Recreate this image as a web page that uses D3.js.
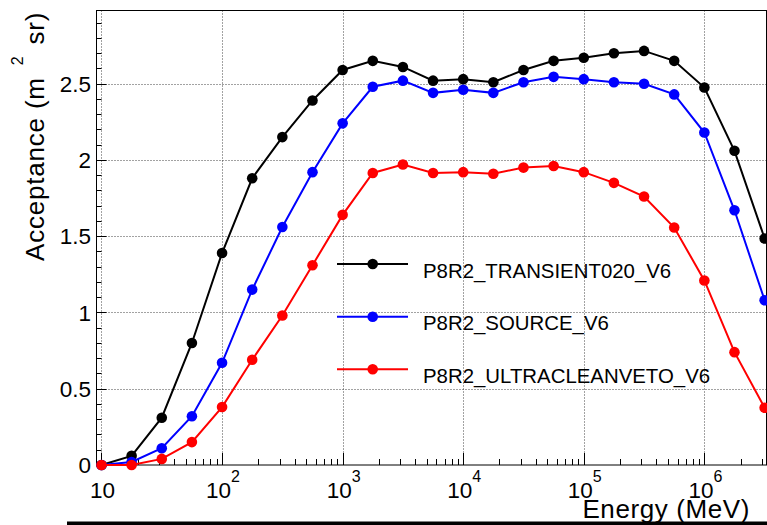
<!DOCTYPE html>
<html>
<head>
<meta charset="utf-8">
<script src="https://cdn.jsdelivr.net/npm/d3@7"></script>
<style>
  html, body { margin: 0; padding: 0; background: #fff; }
  svg { display: block; font-family: "Liberation Sans", Arial, Helvetica, sans-serif; }
</style>
</head>
<body>
<svg id="chart" width="767" height="525"></svg>
<script>
// ---------- data ----------
const energies = [10, 17.78, 31.62, 56.23, 100, 177.8, 316.2, 562.3, 1000, 1778, 3162, 5623,
  1e4, 1.778e4, 3.162e4, 5.623e4, 1e5, 1.778e5, 3.162e5, 5.623e5, 1e6, 1.778e6, 3.162e6];
const seriesNames = ["P8R2_TRANSIENT020_V6", "P8R2_SOURCE_V6", "P8R2_ULTRACLEANVETO_V6"];
const seriesColors = ["#000000", "#0000ff", "#ff0000"];
const transient020 = [0.00, 0.06, 0.31, 0.80, 1.39, 1.88, 2.15, 2.39, 2.59, 2.65, 2.61, 2.52,
  2.53, 2.51, 2.59, 2.65, 2.67, 2.70, 2.715, 2.65, 2.475, 2.06, 1.485];
const source = [0.00, 0.02, 0.11, 0.32, 0.67, 1.15, 1.56, 1.92, 2.24, 2.48, 2.52, 2.44,
  2.46, 2.44, 2.51, 2.545, 2.53, 2.51, 2.50, 2.43, 2.18, 1.67, 1.08];
const ultracleanveto = [0.00, 0.00, 0.04, 0.15, 0.38, 0.69, 0.98, 1.31, 1.64, 1.915, 1.97, 1.915,
  1.92, 1.91, 1.95, 1.96, 1.92, 1.85, 1.76, 1.557, 1.21, 0.74, 0.375];
const seriesValues = [transient020, source, ultracleanveto];
const xMajorTicks = [10, 1e2, 1e3, 1e4, 1e5, 1e6];
const xTickExponents = [null, "2", "3", "4", "5", "6"];
const yMajorTicks = [0, 0.5, 1, 1.5, 2, 2.5];
const yTickLabels = ["0", "0.5", "1", "1.5", "2", "2.5"];
const xTitle = "Energy (MeV)";
const yTitleParts = ["Acceptance (m", "2", "sr)"];

// ---------- layout ----------
const svg = d3.select("#chart");
const L = 96.5, R = 766.5, T = 10.5, B = 465;
const x = d3.scaleLog().domain([Math.pow(10, 0.9586), Math.pow(10, 6.5155)]).range([L, R]);
const y = d3.scaleLinear().domain([0, 2.98]).range([B, T]);

// grid
const grid = svg.append("g").attr("stroke", "#444").attr("stroke-width", 1).attr("stroke-dasharray", "1,2");
grid.selectAll("line.gx").data(xMajorTicks).join("line")
  .attr("x1", d => Math.round(x(d)) + 0.5).attr("x2", d => Math.round(x(d)) + 0.5)
  .attr("y1", T).attr("y2", B);
grid.selectAll("line.gy").data(yMajorTicks.filter(d => d > 0)).join("line")
  .attr("y1", d => Math.round(y(d)) + 0.5).attr("y2", d => Math.round(y(d)) + 0.5)
  .attr("x1", L).attr("x2", R);

// minor ticks
const xMinor = [];
for (let p = 1; p <= 6; p++) for (let m = 1; m <= 9; m++) {
  const v = m * Math.pow(10, p);
  if (v > x.domain()[0] && v < x.domain()[1]) xMinor.push(v);
}
const ticks = svg.append("g").attr("stroke", "#000").attr("stroke-width", 1);
ticks.selectAll("line.xt").data(xMinor).join("line")
  .attr("x1", d => Math.round(x(d)) + 0.5).attr("x2", d => Math.round(x(d)) + 0.5)
  .attr("y1", B).attr("y2", d => xMajorTicks.includes(d) ? B - 12 : B - 6);
const yMinor = d3.range(0, 30).map(i => i / 10).filter(v => v <= 2.98);
ticks.selectAll("line.yt").data(yMinor).join("line")
  .attr("y1", d => Math.round(y(d)) + 0.5).attr("y2", d => Math.round(y(d)) + 0.5)
  .attr("x1", L).attr("x2", (d, i) => i % 5 === 0 ? L + 10 : L + 5);

// frame
svg.append("rect").attr("x", L).attr("y", T).attr("width", R - L).attr("height", B - T)
  .attr("fill", "none").attr("stroke", "#000").attr("stroke-width", 1);

// y tick labels
svg.append("g").selectAll("text").data(yMajorTicks).join("text")
  .attr("x", 91).attr("y", d => y(d)).attr("dy", "0.36em")
  .attr("text-anchor", "end").attr("font-size", 22.5).attr("fill", "#000")
  .text((d, i) => yTickLabels[i]);

// x tick labels
const xl = svg.append("g").selectAll("text").data(xMajorTicks).join("text")
  .attr("x", d => x(d) + 1).attr("y", 498)
  .attr("text-anchor", "middle").attr("font-size", 22.5).attr("fill", "#000");
xl.append("tspan").text("10");
xl.filter((d, i) => xTickExponents[i] !== null).append("tspan")
  .attr("font-size", 16).attr("dy", -16).text((d) => xTickExponents[xMajorTicks.indexOf(d)]);

// series
const line = d3.line().x(d => x(d[0])).y(d => y(d[1]));
seriesValues.forEach((vals, si) => {
  const pts = energies.map((e, i) => [e, vals[i]]);
  svg.append("path").datum(pts).attr("d", line)
    .attr("fill", "none").attr("stroke", seriesColors[si]).attr("stroke-width", 2);
  svg.append("g").selectAll("circle").data(pts).join("circle")
    .attr("cx", d => x(d[0])).attr("cy", d => y(d[1])).attr("r", 5.3)
    .attr("fill", seriesColors[si]);
});

// legend
const legY = [264, 316.7, 369.3];
seriesNames.forEach((name, i) => {
  svg.append("line").attr("x1", 337).attr("x2", 408).attr("y1", legY[i]).attr("y2", legY[i])
    .attr("stroke", seriesColors[i]).attr("stroke-width", 2);
  svg.append("circle").attr("cx", 372.7).attr("cy", legY[i]).attr("r", 5.3).attr("fill", seriesColors[i]);
  svg.append("text").attr("x", 423).attr("y", legY[i] + 13.5)
    .attr("font-size", 20.4).attr("fill", "#000").text(name);
});

// y title
const yt = svg.append("text").attr("transform", "translate(44,261) rotate(-90)")
  .attr("text-anchor", "start").attr("font-size", 26).attr("letter-spacing", 0.8).attr("fill", "#000");
yt.append("tspan").text(yTitleParts[0]);
yt.append("tspan").attr("dx", 12).attr("dy", -21).attr("font-size", 16).text(yTitleParts[1]);
yt.append("tspan").attr("dx", 11).attr("dy", 21).text(yTitleParts[2]);

// x title
svg.append("text").attr("x", 750).attr("y", 518).attr("text-anchor", "end")
  .attr("font-size", 26).attr("letter-spacing", 0.6).attr("fill", "#000").text(xTitle);

// bottom bar
svg.append("rect").attr("x", 67).attr("y", 521.5).attr("width", 700).attr("height", 3.5).attr("fill", "#000");
</script>
</body>
</html>
